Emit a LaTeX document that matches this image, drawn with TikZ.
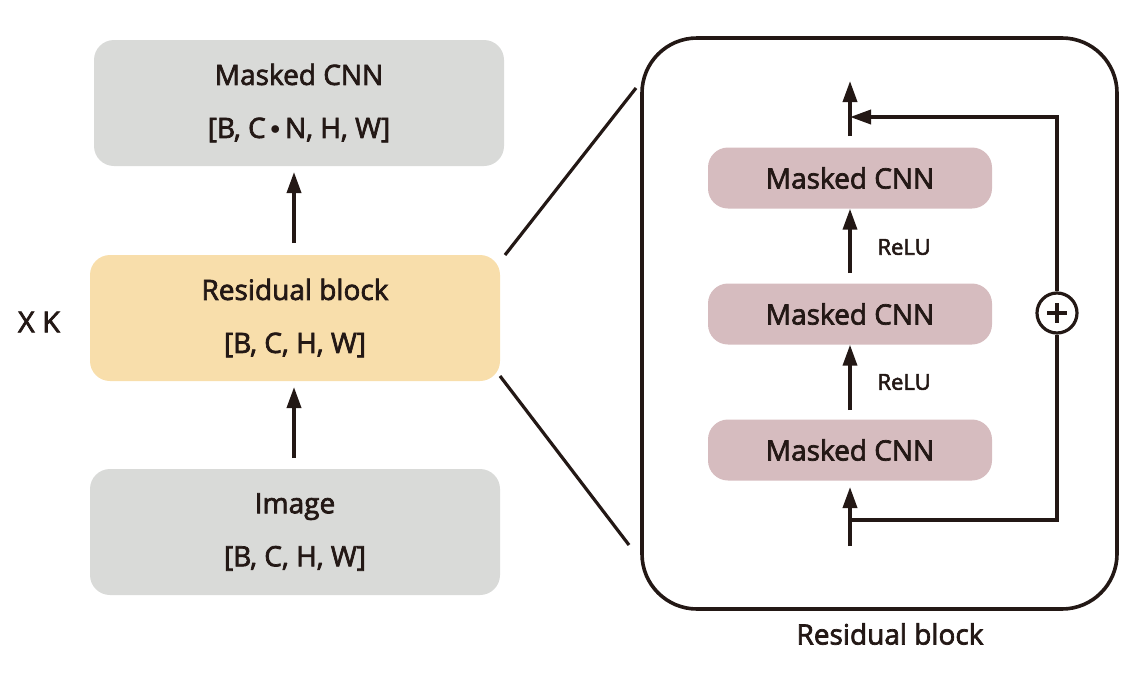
\documentclass[tikz,border=0pt]{standalone}
\usepackage{fontspec}
\setmainfont{Open Sans}
\newfontfamily\medfont{Open Sans}[FakeBold=2.5]
\usetikzlibrary{arrows.meta}
\definecolor{ink}{HTML}{231815}
\definecolor{boxgray}{HTML}{D9DAD8}
\definecolor{boxyellow}{HTML}{F8DEAB}
\definecolor{boxpink}{HTML}{D6BCBF}
\tikzset{
  bigbox/.style={rounded corners=20pt, minimum width=410pt, minimum height=126pt, align=center, font=\medfont\fontsize{28}{53}\selectfont, inner sep=0pt, text=ink},
  cnnbox/.style={rounded corners=20pt, fill=boxpink, minimum width=284pt, minimum height=61pt, inner sep=0pt, font=\medfont\fontsize{28}{30}\selectfont, text=ink},
  arr/.style={draw=ink, line width=3.6pt, -{Triangle[length=21pt,width=14pt]}},
  ln/.style={draw=ink, line width=3.6pt},
  lbl/.style={font=\medfont\fontsize{22}{24}\selectfont, text=ink}
}
\begin{document}
\begin{tikzpicture}[x=1pt,y=-1pt]
\useasboundingbox (0,0) rectangle (1148,672);
% left column
\node[bigbox, fill=boxgray] (mc) at (299,103) {Masked CNN\\{}[B, C\,\raisebox{0.25ex}{\scalebox{0.8}{$\bullet$}}\,N, H, W]};
\node[bigbox, fill=boxyellow] (rb) at (295,318) {Residual block\\{}[B, C, H, W]};
\node[bigbox, fill=boxgray] (im) at (295,532) {Image\\{}[B, C, H, W]};
\draw[arr] (294,243) -- (294,172);
\draw[arr] (294,458) -- (294,387);
\node[font=\medfont\fontsize{29}{32}\selectfont, text=ink] (xk) at (39,322) {X K};
% zoom lines
\draw[ln, line width=3.2pt] (505,255) -- (636,88);
\draw[ln, line width=3.2pt] (500,376) -- (629,545);
% big rounded frame
\draw[ink, line width=3.6pt, rounded corners=55pt] (642,38) rectangle (1117,609);
% right column
\node[cnnbox] (c3) at (850,178) {Masked CNN};
\node[cnnbox] (c2) at (850,314) {Masked CNN};
\node[cnnbox] (c1) at (850,450) {Masked CNN};
\coordinate (in) at (850,546);
\coordinate (sk) at (850,520);
\coordinate (out) at (850,81);
\coordinate (sktop) at (850,117);
\draw[arr] (in) -- (850,487);
\draw[arr] (850,410) -- (c2.south);
\node[lbl, anchor=west] (r1) at (874,382) {ReLU};
\draw[arr] (850,273) -- (c3.south);
\node[lbl, anchor=west] (r2) at (874,247) {ReLU};
\draw[arr] (850,136) -- (out);
\node[circle, draw=ink, line width=3.2pt, minimum size=40pt, inner sep=0pt, fill=white] (plus) at (1057,313) {};
\draw[ink, line width=3.2pt] (plus.center) ++(-10,0) -- ++(20,0) (plus.center) ++(0,-10) -- ++(0,20);
\draw[ln] (sk) -- (1057,520) -- (plus.south);
\draw[ln] (plus.north) -- (1057,117) -- (872,117);
\draw[arr] (1057,117) -- (sktop);
\node[font=\medfont\fontsize{28}{32}\selectfont, text=ink] (cap) at (890,634) {Residual block};
\end{tikzpicture}
\end{document}
